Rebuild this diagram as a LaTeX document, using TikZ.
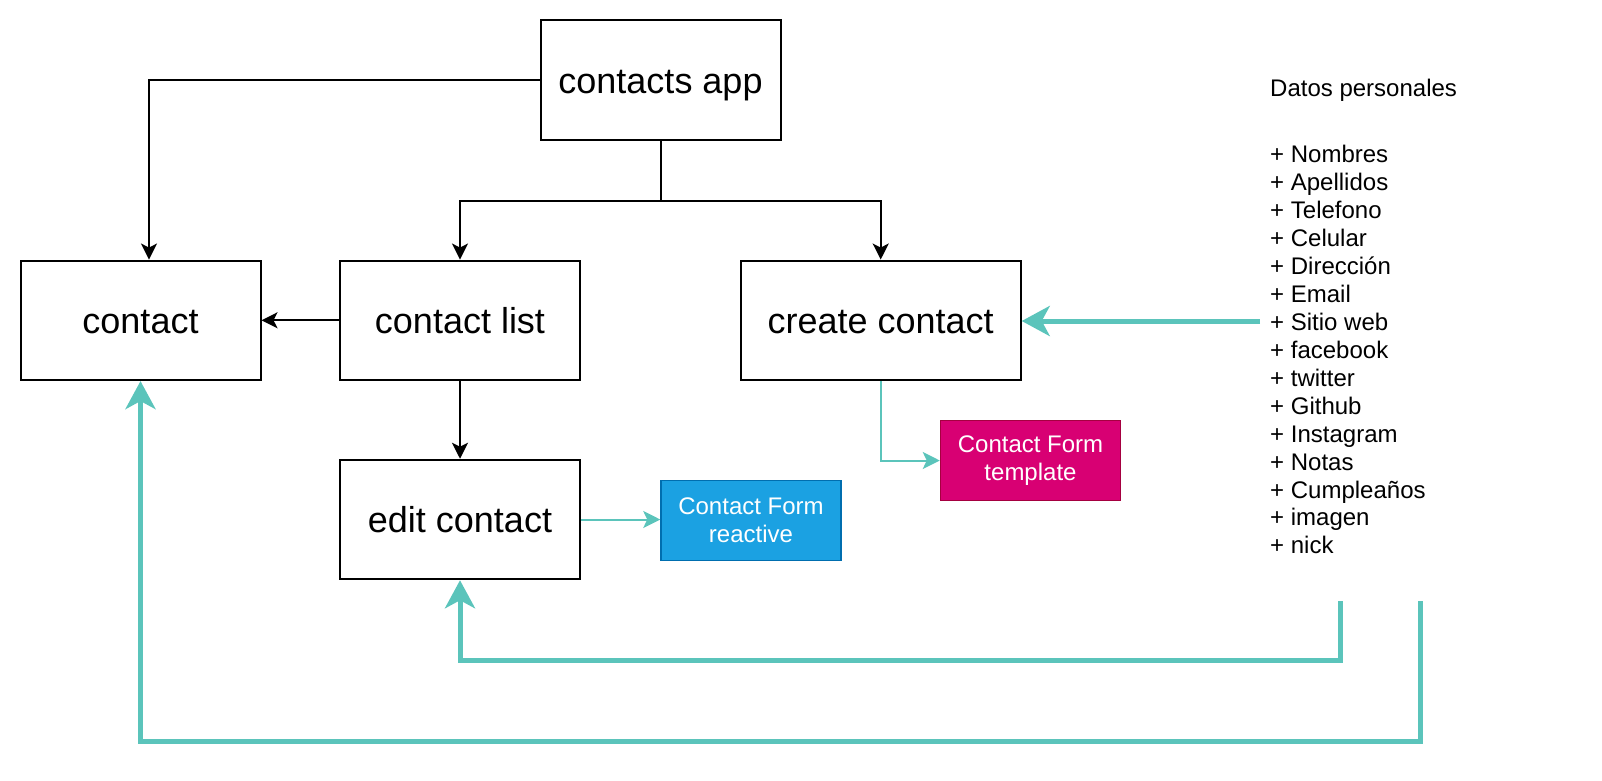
\documentclass[tikz,border=0pt]{standalone}
\usepackage{fontspec}
\setmainfont{Liberation Sans}
\usetikzlibrary{arrows.meta}
\definecolor{aqua}{HTML}{5BC4BB}
\definecolor{formblue}{HTML}{1BA1E2}
\definecolor{formblueline}{HTML}{006EAF}
\definecolor{formpink}{HTML}{D80073}
\definecolor{formpinkline}{HTML}{A50040}

\begin{document}
\begin{tikzpicture}[x=1pt,y=-1pt,
	box/.style={draw,line width=2pt,minimum height=119.5pt,inner sep=0pt,
		text height=31pt,text depth=5pt,font=\fontsize{36}{43}\selectfont},
	form/.style={draw,line width=1.5pt,minimum width=180pt,minimum height=80pt,inner sep=0pt,
		text=white,align=center,font=\fontsize{24}{28}\selectfont},
	link/.style={line width=2pt,-{Stealth[length=16pt,width=16pt,inset=4pt]}},
	feed/.style={aqua,line width=2pt,-{Stealth[length=17pt,width=17pt,inset=4pt]}},
	data/.style={aqua,line width=5pt,-{Stealth[length=28pt,width=30pt,inset=8pt]}}]
	\useasboundingbox (0,0) rectangle (1602,780);
	% boxes
	\node[box,minimum width=240pt] (app) at (660.5,80.2) {contacts app};
	\node[box,minimum width=240pt] (contact) at (140.5,320.3) {contact};
	\node[box,minimum width=240pt] (list) at (460,320.3) {contact list};
	\node[box,minimum width=280pt] (create) at (880.7,320.3) {create contact};
	\node[box,minimum width=240pt] (edit) at (460,519.5) {edit contact};
	\node[form,fill=formblue,draw=formblueline] (reactive) at (751,520.5) {Contact Form\\reactive};
	\node[form,fill=formpink,draw=formpinkline] (template) at (1030.5,460.5) {Contact Form\\template};
	% datos personales
	\node[anchor=base west,inner sep=0pt,font=\fontsize{24}{28}\selectfont] (title) at (1270,96) {Datos personales};
	\node[anchor=north west,inner sep=0pt,align=left,font=\fontsize{24}{27.95}\selectfont] (fields) at (1270,145) {%
		+ Nombres\\+ Apellidos\\+ Telefono\\+ Celular\\+ Dirección\\+ Email\\+ Sitio web\\%
		+ facebook\\+ twitter\\+ Github\\+ Instagram\\+ Notas\\+ Cumpleaños\\+ imagen\\+ nick};
	\coordinate (d1) at (1260,321);
	\coordinate (d2) at (1340.5,601);
	\coordinate (d3) at (1420,601);
	% connectors
	\draw[link] (app.west) -| ([xshift=8.5pt]contact.north);
	\draw[link] (app.south) -- ++(0,60) -| (list.north);
	\draw[link] (app.south) -- ++(0,60) -| (create.north);
	\draw[link] (list.west) -- (contact.east);
	\draw[link] (list.south) -- (edit.north);
	\draw[feed] (edit.east) -- (edit.east -| reactive.west);
	\draw[feed] (create.south) |- (template.west);
	\draw[data] (d1) -- (d1 -| create.east);
	\draw[data] (d2) -- ++(0,59) -| (edit.south);
	\draw[data] (d3) -- ++(0,140) -| (contact.south);
\end{tikzpicture}
\end{document}
